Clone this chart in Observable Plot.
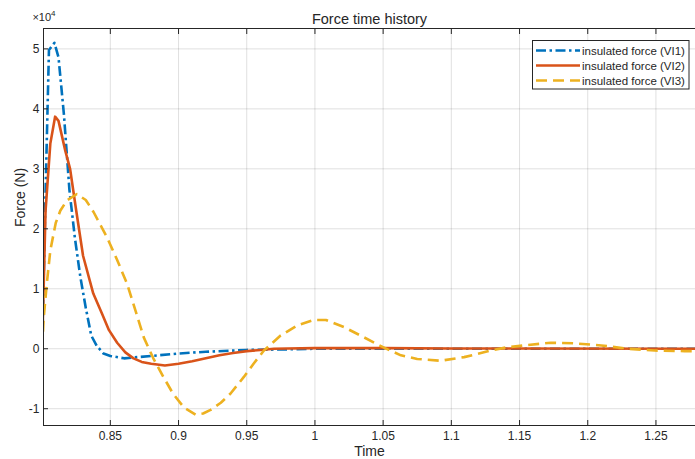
<!DOCTYPE html>
<html>
<head>
<meta charset="utf-8">
<script src="https://cdn.jsdelivr.net/npm/d3@7"></script>
<script src="https://cdn.jsdelivr.net/npm/@observablehq/plot@0.6"></script>
<style>
  html, body { margin: 0; padding: 0; background: #fff; }
  #wrap { position: relative; width: 695px; height: 459px; }
  #legend { position: absolute; left: 532px; top: 40px; }
</style>
</head>
<body>
<div id="wrap"></div>
<script>
// ---- data (force in units of 1e4 N) ----
const titleText = "Force time history";
const xLabel = "Time";
const yLabel = "Force (N)";
const seriesNames = ["insulated force (VI1)", "insulated force (VI2)", "insulated force (VI3)"];
const seriesColors = ["#0072BD", "#D95319", "#EDB120"];
const seriesDash = ["10,3.5,2.5,3.5", null, "11,6"];

const xTicks = [0.85, 0.9, 0.95, 1, 1.05, 1.1, 1.15, 1.2, 1.25];
const yTicks = [-1, 0, 1, 2, 3, 4, 5];
const xDomain = [0.801, 1.279];
const yDomain = [-1.28, 5.34];

const t1 = [0.8, 0.8025, 0.805, 0.809, 0.812, 0.816, 0.82, 0.824, 0.828, 0.832, 0.836, 0.84, 0.845, 0.85, 0.86, 0.87, 0.88, 0.9, 0.92, 0.95, 0.98, 1.0, 1.1, 1.2, 1.279];
const f1 = [0, 2.6, 4.98, 5.1, 4.86, 3.9, 2.65, 1.85, 1.2, 0.68, 0.22, 0.05, -0.08, -0.12, -0.16, -0.14, -0.12, -0.08, -0.05, -0.02, -0.01, 0, 0, 0, 0];

const t2 = [0.8, 0.8025, 0.806, 0.8095, 0.812, 0.817, 0.8205, 0.825, 0.83, 0.8375, 0.844, 0.849, 0.855, 0.861, 0.867, 0.873, 0.88, 0.89, 0.9, 0.91, 0.92, 0.93, 0.94, 0.95, 0.96, 0.97, 0.98, 1.0, 1.05, 1.1, 1.279];
const f2 = [0, 2.3, 3.42, 3.87, 3.8, 3.3, 3.0, 2.3, 1.55, 0.92, 0.58, 0.31, 0.1, -0.06, -0.16, -0.22, -0.25, -0.28, -0.25, -0.21, -0.16, -0.11, -0.07, -0.04, -0.02, 0, 0.005, 0.01, 0.01, 0.005, 0];

const t3 = [0.8, 0.8012, 0.8035, 0.806, 0.81, 0.8133, 0.818, 0.8255, 0.832, 0.8377, 0.8475, 0.855, 0.8623, 0.8685, 0.8745, 0.8815, 0.8889, 0.896, 0.904, 0.9125, 0.918, 0.9235, 0.931, 0.938, 0.9479, 0.955, 0.9626, 0.9748, 0.9871, 0.9993, 1.008, 1.0213, 1.036, 1.0495, 1.063, 1.075, 1.092, 1.1094, 1.129, 1.14, 1.153, 1.173, 1.19, 1.21, 1.2294, 1.249, 1.271, 1.279];
const f3 = [0, 0.53, 1.1, 1.64, 2.1, 2.3, 2.47, 2.58, 2.48, 2.28, 1.86, 1.48, 1.08, 0.63, 0.19, -0.16, -0.47, -0.75, -0.98, -1.1, -1.08, -1.02, -0.9, -0.75, -0.47, -0.25, -0.03, 0.22, 0.39, 0.48, 0.48, 0.36, 0.19, 0.03, -0.11, -0.17, -0.2, -0.14, -0.03, 0.02, 0.055, 0.1, 0.09, 0.055, 0, -0.03, -0.04, -0.04];

const seriesT = [t1, t2, t3];
const seriesF = [f1, f2, f3];
const tables = seriesT.map((ts, i) => ts.map((t, j) => ({t, f: seriesF[i][j]})));

const ink = "#262626";
const fontFam = "'Liberation Sans', Arial, sans-serif";
const fmt = d => String(+d.toFixed(2));

const lineMarks = tables.map((tb, i) => Plot.line(tb, {
  x: "t", y: "f", stroke: seriesColors[i], strokeWidth: 2.6,
  strokeDasharray: seriesDash[i], strokeLinejoin: "round", strokeLinecap: "butt", clip: true
}));

const chart = Plot.plot({
  width: 695, height: 459,
  marginLeft: 43, marginRight: 0, marginTop: 28, marginBottom: 34,
  x: {domain: xDomain},
  y: {domain: yDomain},
  style: {fontFamily: fontFam, fontSize: "12px", color: ink, background: "white"},
  marks: [
    Plot.gridX(xTicks, {stroke: ink, strokeOpacity: 0.14}),
    Plot.gridY(yTicks, {stroke: ink, strokeOpacity: 0.14}),
    ...lineMarks,
    Plot.ruleY([yDomain[0]], {stroke: ink}),
    Plot.ruleY([yDomain[1]], {stroke: ink}),
    Plot.ruleX([xDomain[0]], {stroke: ink}),
    Plot.axisX(xTicks, {anchor: "bottom", tickSize: -5, tickPadding: 11, tickFormat: fmt, label: null, fill: ink, stroke: ink}),
    Plot.axisX(xTicks, {anchor: "top", tickSize: -5, tickFormat: () => "", label: null, stroke: ink}),
    Plot.axisY(yTicks, {anchor: "left", tickSize: -5, tickPadding: 9, tickFormat: d => String(d), label: null, fill: ink, stroke: ink}),
    Plot.text([titleText], {frameAnchor: "top", dy: -15, fontSize: 14.5, fill: ink}),
    Plot.text([xLabel], {frameAnchor: "bottom", dy: 30, fontSize: 14, fill: ink}),
    Plot.text([yLabel], {frameAnchor: "left", dx: -23, rotate: -90, fontSize: 14, fill: ink})
  ]
});
document.getElementById("wrap").appendChild(chart);

// exponent label
const svg = d3.select(chart);
const ex = svg.append("text").attr("x", 44).attr("y", 21)
  .attr("font-family", fontFam).attr("font-size", 11).attr("fill", ink);
ex.append("tspan").text("×10");
ex.append("tspan").attr("dy", -5).attr("font-size", 8).text("4");

// legend
const lg = d3.select("#wrap").append("svg").attr("id", "legend").attr("width", 158).attr("height", 50);
lg.append("rect").attr("x", 0.5).attr("y", 0.5).attr("width", 156.5).attr("height", 48.5)
  .attr("fill", "white").attr("stroke", ink).attr("stroke-width", 1);
seriesNames.forEach((name, i) => {
  const y = 10.5 + i * 15;
  lg.append("line").attr("x1", 4).attr("x2", 48).attr("y1", y).attr("y2", y)
    .attr("stroke", seriesColors[i]).attr("stroke-width", 2.6)
    .attr("stroke-dasharray", seriesDash[i]);
  lg.append("text").attr("x", 50).attr("y", y).attr("dy", "0.35em")
    .attr("font-family", fontFam).attr("font-size", 11.5)
    .attr("fill", ink).text(name);
});
</script>
</body>
</html>
